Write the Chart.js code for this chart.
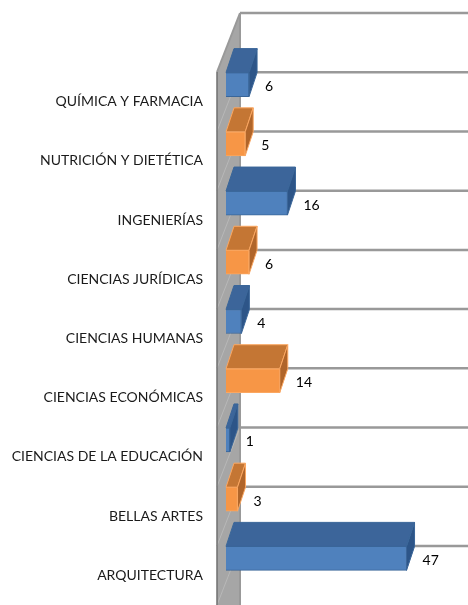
<!DOCTYPE html>
<html lang="es">
<head>
    <meta charset="UTF-8">
    <title>Carreras</title>
    <script src="https://cdn.jsdelivr.net/npm/chart.js"></script>
    <style>
        html, body { margin: 0; padding: 0; background: #fff; }
        #chart { display: block; }
    </style>
</head>
<body>
    <canvas id="chart" width="468" height="605"></canvas>
    <script>
        // data, top to bottom as in the picture
        const carreras = [
            'QUÍMICA Y FARMACIA',
            'NUTRICIÓN Y DIETÉTICA',
            'INGENIERÍAS',
            'CIENCIAS JURÍDICAS',
            'CIENCIAS HUMANAS',
            'CIENCIAS ECONÓMICAS',
            'CIENCIAS DE LA EDUCACIÓN',
            'BELLAS ARTES',
            'ARQUITECTURA'
        ];
        const alumnos = [6, 5, 16, 6, 4, 14, 1, 3, 47];

        // 3d look
        const depthX = 8, depthY = -24;     // bar depth
        const wallX = 23, wallY = -59;      // wall / floor depth
        const wallFront = 217;
        const barShift = -17;

        const blue = { front: '#4f81bd', top: '#3c659a', side: '#2d5588', border: '#3a6699' };
        const orange = { front: '#f79646', top: '#c47634', side: '#b0652a', border: '#fba761' };
        const paint = i => (i % 2 === 0 ? blue : orange);

        const threeD = {
            id: 'threeD',
            beforeDatasetsDraw(chart) {
                const { ctx, chartArea } = chart;
                const band = (chartArea.bottom - chartArea.top) / carreras.length;
                const bottom = chart.height + 10;
                ctx.save();
                // side wall
                ctx.fillStyle = '#a6a6a6';
                ctx.beginPath();
                ctx.moveTo(wallFront, chartArea.top);
                ctx.lineTo(wallFront + wallX, chartArea.top + wallY);
                ctx.lineTo(wallFront + wallX, bottom);
                ctx.lineTo(wallFront, bottom);
                ctx.closePath();
                ctx.fill();
                // gridlines on wall and back
                for (let i = 0; i <= carreras.length; i++) {
                    const fy = chartArea.top + i * band;
                    ctx.strokeStyle = i === 0 ? '#999' : '#b8b8b8';
                    ctx.lineWidth = i === 0 ? 2 : 1;
                    ctx.beginPath();
                    ctx.moveTo(wallFront, fy);
                    ctx.lineTo(wallFront + wallX, fy + wallY);
                    ctx.stroke();
                    ctx.strokeStyle = '#999';
                    ctx.lineWidth = 2.5;
                    ctx.beginPath();
                    ctx.moveTo(wallFront + wallX, fy + wallY);
                    ctx.lineTo(chart.width, fy + wallY);
                    ctx.stroke();
                }
                ctx.strokeStyle = '#999';
                ctx.lineWidth = 2;
                ctx.beginPath();
                ctx.moveTo(wallFront + wallX, chartArea.top + wallY);
                ctx.lineTo(wallFront + wallX, bottom);
                ctx.stroke();
                ctx.strokeStyle = '#6f6f6f';
                ctx.lineWidth = 1.5;
                ctx.beginPath();
                ctx.moveTo(wallFront, chartArea.top);
                ctx.lineTo(wallFront, bottom);
                ctx.stroke();
                ctx.restore();

                ctx.save();
                ctx.translate(0, barShift);
            },
            afterDatasetsDraw(chart) {
                const { ctx } = chart;
                const meta = chart.getDatasetMeta(0);
                meta.data.forEach((bar, i) => {
                    const c = paint(i);
                    const { x, y, base, height } = bar.getProps(['x', 'y', 'base', 'height'], true);
                    const t = y - height / 2, b = y + height / 2;
                    // top face
                    ctx.fillStyle = c.top;
                    ctx.strokeStyle = c.border;
                    ctx.lineWidth = 1;
                    ctx.beginPath();
                    ctx.moveTo(base, t);
                    ctx.lineTo(base + depthX, t + depthY);
                    ctx.lineTo(x + depthX, t + depthY);
                    ctx.lineTo(x, t);
                    ctx.closePath();
                    ctx.fill();
                    ctx.stroke();
                    // side face
                    ctx.fillStyle = c.side;
                    ctx.beginPath();
                    ctx.moveTo(x, t);
                    ctx.lineTo(x + depthX, t + depthY);
                    ctx.lineTo(x + depthX, b + depthY);
                    ctx.lineTo(x, b);
                    ctx.closePath();
                    ctx.fill();
                    ctx.stroke();
                    // value
                    ctx.fillStyle = '#000';
                    ctx.font = '14px Lato, "Liberation Sans", sans-serif';
                    ctx.textAlign = 'left';
                    ctx.textBaseline = 'middle';
                    ctx.fillText(String(alumnos[i]), x + depthX + 8, y + 2);
                });
                ctx.restore();
            }
        };

        new Chart(document.getElementById('chart'), {
            type: 'bar',
            data: {
                labels: carreras,
                datasets: [{
                    data: alumnos,
                    backgroundColor: alumnos.map((_, i) => paint(i).front),
                    borderColor: alumnos.map((_, i) => paint(i).border),
                    borderWidth: 1,
                    barThickness: 24,
                    clip: false
                }]
            },
            options: {
                indexAxis: 'y',
                responsive: false,
                animation: false,
                layout: { padding: { top: 72, right: 0, bottom: -2, left: 0 } },
                plugins: {
                    legend: { display: false },
                    tooltip: { enabled: false }
                },
                scales: {
                    x: {
                        display: false,
                        min: 0,
                        max: 63
                    },
                    y: {
                        afterFit(scale) {
                            scale.width = 226;
                            scale.paddingTop = 0;
                            scale.paddingBottom = -2;
                        },
                        grid: { display: false, drawTicks: false },
                        border: { display: false },
                        ticks: {
                            padding: 23,
                            color: '#1a1a1a',
                            font: { family: 'Lato', size: 14 }
                        }
                    }
                }
            },
            plugins: [threeD]
        });
    </script>
</body>
</html>
